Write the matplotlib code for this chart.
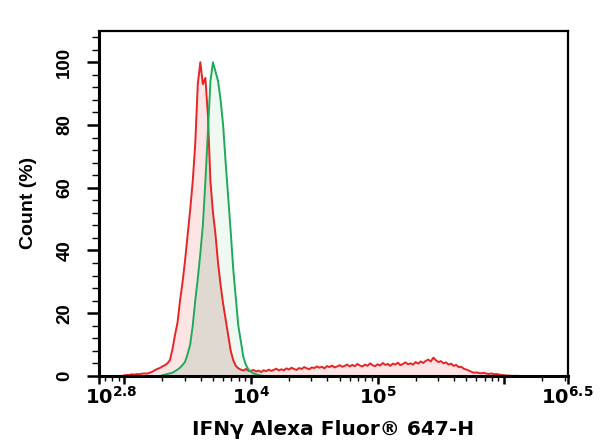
import matplotlib
matplotlib.use('Agg')
import matplotlib.pyplot as plt
import matplotlib.ticker as mticker
import matplotlib.transforms as mtrans
import numpy as np

plt.rcParams['font.family'] = ['DejaVu Sans']
plt.rcParams['font.weight'] = 'bold'
plt.rcParams['mathtext.fontset'] = 'dejavusans'

## Histogram data (log10 channel, % of max count)
redStart, greenStart, binStep = 3.00, 3.30, 0.02

redCounts = [
    0.2, 0.3, 0.3, 0.5, 0.4, 0.6, 0.5, 0.7, 0.8, 0.7,
    1.0, 1.3, 1.8, 2.2, 2.5, 3.0, 3.4, 4.0, 5.0, 8.5,
    13, 17, 24, 30, 37, 45, 53, 62, 74, 93,
    100, 93, 95, 83, 62, 52, 45, 36, 29, 23,
    18, 13, 8, 5, 3.2, 2.4, 2.0, 1.7, 2.2, 1.6,
    1.6, 1.9, 1.4, 1.7, 1.2, 1.8, 1.5, 2.0, 1.6, 1.9,
    2.3, 1.7, 2.1, 1.8, 2.4, 2.0, 2.6, 2.2, 1.9, 2.5,
    2.2, 2.8, 2.4, 2.1, 2.7, 2.5, 3.0, 2.6, 2.9, 2.4,
    3.1, 2.8, 3.3, 2.7, 3.0, 3.4, 2.9, 3.2, 3.6, 3.0,
    3.5, 3.1, 3.8, 3.3, 3.0, 3.6, 3.2, 4.0, 3.4, 3.1,
    3.7, 3.3, 4.1, 3.5, 3.8, 3.2, 3.9, 3.6, 4.2, 3.4,
    3.8, 4.3, 3.7, 4.0, 3.6, 4.4, 3.9, 4.6, 4.1, 4.8,
    5.2, 4.6, 5.8, 5.0, 4.4, 4.7, 4.0, 4.3, 3.6, 3.9,
    3.2, 3.5, 2.8, 2.9, 2.3, 2.0, 1.7, 1.3, 1.0, 1.1,
    0.9, 0.8, 1.0, 0.7, 0.6, 0.8, 0.5, 0.6, 0.4, 0.3,
    0.2, 0.1, 0.1, 0.0, 0.0, 0.0
]

greenCounts = [
    0.2, 0.4, 0.6, 0.8, 1.0, 1.5, 2.0, 2.6, 3.5, 4.5,
    7, 10, 16, 24, 31, 39, 48, 62, 78, 94,
    100, 97, 94, 88, 80, 68, 57, 46, 34, 25,
    16, 11, 6, 3.5, 2.0, 1.3, 0.8, 0.5, 0.3, 0.1,
    0.0
]

xTickLabels = [r'$\mathbf{10^{2.8}}$', '', r'$\mathbf{10^{4}}$', r'$\mathbf{10^{5}}$', '',
               r'$\mathbf{10^{6.5}}$']
xTickPowers = [2.8, 3, 4, 5, 6, 6.5]
yTickValues = [0, 20, 40, 60, 80, 100]

red = np.array(redCounts)
green = np.array(greenCounts)
redX = 10 ** (redStart + binStep * np.arange(len(red)))
greenX = 10 ** (greenStart + binStep * np.arange(len(green)))

# green on the red grid, for the overlap shading
greenOnRed = np.interp(redX, greenX, green, left=0, right=0)
overlap = np.minimum(red, greenOnRed)

fig = plt.figure(figsize=(6, 4.48), dpi=100)
ax = fig.add_axes([0.165, 0.161, 0.781, 0.770])

ax.set_xscale('log')
ax.fill_between(redX, red, color='#fde5e5', lw=0)
ax.fill_between(greenX, green, color='#f0f8f2', lw=0)
ax.fill_between(redX, overlap, color='#e0d9d1', lw=0)
ax.plot(redX, red, color='#e82424', lw=1.4)
ax.plot(greenX, green, color='#1faa5a', lw=1.4)

ax.set_xlim(10 ** 2.8, 10 ** 6.5)
ax.set_ylim(0, 110)

ax.xaxis.set_major_locator(mticker.FixedLocator([10 ** p for p in xTickPowers]))
ax.xaxis.set_major_formatter(mticker.FixedFormatter(xTickLabels))
ax.xaxis.set_minor_locator(mticker.LogLocator(base=10, subs=np.arange(2, 10), numticks=20))
ax.xaxis.set_minor_formatter(mticker.NullFormatter())

ax.yaxis.set_major_locator(mticker.FixedLocator(yTickValues))
ax.yaxis.set_minor_locator(mticker.MultipleLocator(4))

ax.tick_params(axis='x', which='major', direction='out', length=6, width=1.8, labelsize=14, pad=1)
ax.tick_params(axis='x', which='minor', direction='out', length=3.5, width=1.0)
ax.tick_params(axis='y', which='major', direction='out', length=8.5, width=1.8, pad=10)
ax.tick_params(axis='y', which='minor', direction='out', length=5, width=1.0)

for lbl in ax.get_yticklabels():
    lbl.set_rotation(90)
    lbl.set_va('center')
    lbl.set_family(['Liberation Sans', 'DejaVu Sans'])
    lbl.set_fontsize(13.5)
    lbl.set_fontweight('bold')

# first x label sits a little to the right of its tick
firstLabel = ax.get_xticklabels()[0]
firstLabel.set_transform(firstLabel.get_transform() +
                         mtrans.ScaledTranslation(12 / 100, 0, fig.dpi_scale_trans))

for side in ['left', 'bottom']:
    ax.spines[side].set_linewidth(2.2)
for side in ['top', 'right']:
    ax.spines[side].set_linewidth(1.6)

ax.set_ylabel('Count (%)', fontsize=14, fontweight='bold', labelpad=14,
              family=['Liberation Sans', 'DejaVu Sans'])
ax.set_xlabel('IFNγ Alexa Fluor® 647-H', fontsize=14.5, fontweight='bold', labelpad=9)

fig.savefig('out.png', dpi=100)
